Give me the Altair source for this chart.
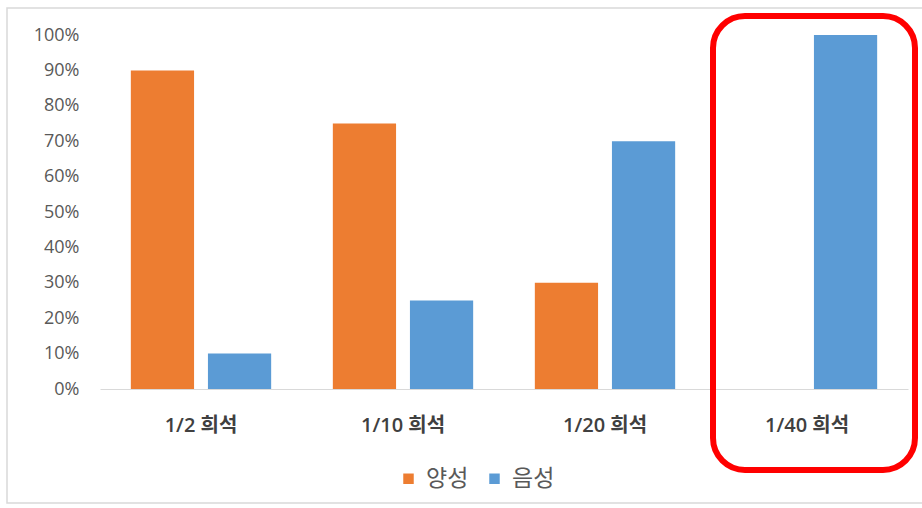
import altair as alt
import pandas as pd

categories = ["1/2 희석", "1/10 희석", "1/20 희석", "1/40 희석"]
series_names = ["양성", "음성"]
positive = [90, 75, 30, 0]
negative = [10, 25, 70, 100]
y_ticks = [0, 10, 20, 30, 40, 50, 60, 70, 80, 90, 100]
highlight_category = ["1/40 희석"]
colors = ["#ED7D31", "#5B9BD5"]

rows = []
for c, p, n in zip(categories, positive, negative):
    rows.append({"category": c, "series": series_names[0], "value": p})
    rows.append({"category": c, "series": series_names[1], "value": n})
df = pd.DataFrame(rows)
hl = pd.DataFrame({"category": highlight_category})

FONT = "Open Sans, Noto Sans CJK KR, sans-serif"

x_scale = alt.Scale(domain=categories, paddingInner=0, paddingOuter=0)

bars = alt.Chart(df).mark_bar().encode(
    x=alt.X("category:N", sort=categories, scale=x_scale,
            axis=alt.Axis(title=None, labelAngle=0, ticks=False, domainColor="#D9D9D9",
                          domainWidth=1, labelPadding=26, labelFontSize=20,
                          labelColor="#404040", labelFont=FONT, labelFontWeight=600)),
    xOffset=alt.XOffset("series:N", sort=series_names,
                        scale=alt.Scale(domain=series_names, paddingInner=0.18, paddingOuter=0.4)),
    y=alt.Y("value:Q", scale=alt.Scale(domain=[0, 100], nice=False),
            axis=alt.Axis(title=None, values=y_ticks, grid=False, domain=False, ticks=False,
                          labelExpr="datum.value + '%'", labelPadding=21, labelFontSize=18,
                          labelColor="#595959", labelFont=FONT)),
    color=alt.Color("series:N", sort=series_names,
                    scale=alt.Scale(domain=series_names, range=colors),
                    legend=alt.Legend(title=None, orient="none", legendX=297, legendY=432,
                                      direction="horizontal", symbolType="square",
                                      symbolSize=110, labelFontSize=23, labelColor="#595959",
                                      labelFont=FONT, columnPadding=14, labelOffset=6)),
)

frame = alt.Chart(hl).mark_rect(filled=False, stroke="#D9D9D9", strokeWidth=1.5).encode(
    x=alt.value(-93), x2=alt.value(830), y=alt.value(-27), y2=alt.value(468)
)

highlight = alt.Chart(hl).mark_rect(
    filled=False, stroke="#FF0000", strokeWidth=6, cornerRadius=32,
    xOffset=7, x2Offset=10
).encode(
    x=alt.X("category:N", sort=categories, scale=x_scale),
    y=alt.value(-19), y2=alt.value(435)
)

chart = alt.layer(frame, bars, highlight).properties(
    width=808, height=354,
    autosize=alt.AutoSizeParams(type="none"),
    padding={"left": 100, "top": 35, "right": 14, "bottom": 119},
    background="white",
).configure_view(strokeWidth=0)

chart.save("out.html", embed_options={"renderer": "svg", "actions": False})
